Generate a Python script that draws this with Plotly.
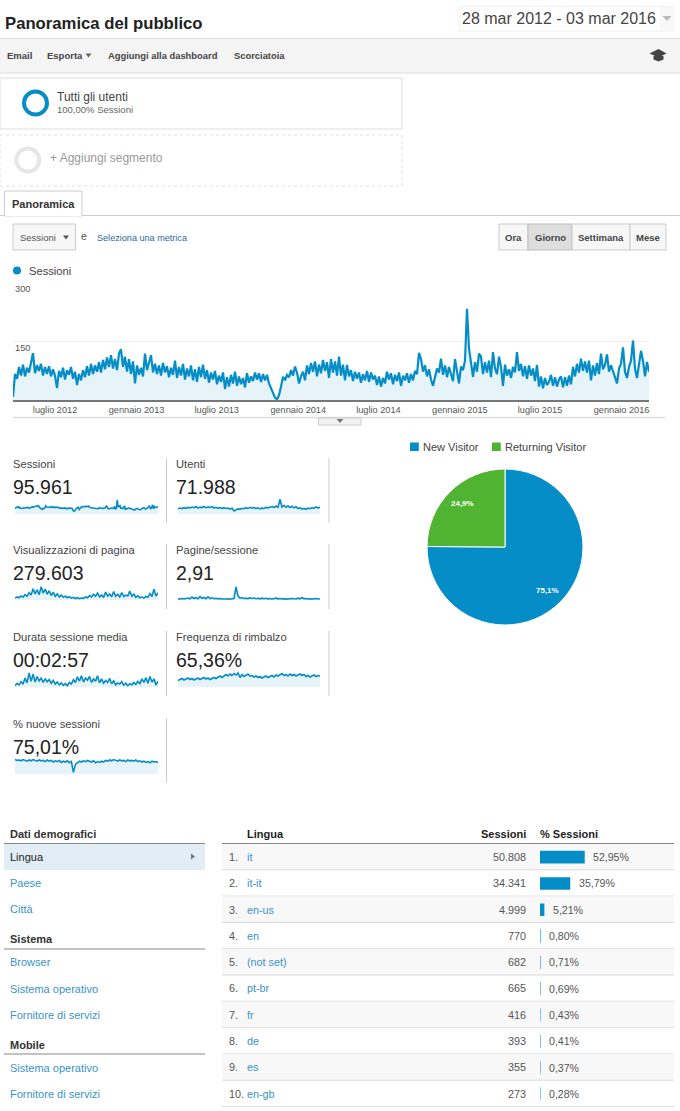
import math
import pandas as pd
import plotly.graph_objects as go

W, H = 680, 1111
BLUE = '#058dc7'
GREEN = '#50b432'
FILL = 'rgba(5,141,199,0.1)'
LINK = '#3a93cb'
FONT = 'Liberation Sans'

# main chart (left to right)
sessions = [
    8, 66, 54, 84, 62, 90, 60, 82, 70, 96, 119, 68, 88, 74, 92, 62, 84, 66, 86, 60,
    78, 62, 30, 74, 58, 82, 52, 76, 64, 84, 54, 72, 38, 66, 50, 76, 58, 86, 62, 92,
    66, 88, 72, 96, 70, 102, 78, 108, 84, 114, 80, 104, 76, 118, 129, 84, 110, 72, 104, 66,
    98, 42, 88, 64, 82, 60, 118, 76, 96, 114, 70, 92, 66, 88, 62, 94, 70, 86, 58, 82,
    64, 100, 56, 84, 62, 92, 52, 80, 60, 88, 50, 78, 46, 84, 58, 90, 54, 76, 44, 70,
    52, 74, 40, 62, 46, 70, 28, 58, 34, 64, 42, 72, 36, 60, 40, 56, 32, 68, 44, 60,
    48, 70, 52, 68, 46, 66, 50, 64, 42, 30, 16, 6, 2, 12, 34, 59, 50, 64, 58, 76,
    62, 85, 70, 42, 60, 72, 50, 88, 66, 94, 72, 98, 60, 90, 68, 102, 74, 96, 56, 104,
    70, 98, 62, 110, 62, 90, 50, 89, 60, 76, 48, 72, 54, 70, 44, 66, 50, 74, 46, 70,
    52, 62, 38, 60, 34, 56, 42, 72, 52, 68, 40, 64, 48, 70, 36, 62, 50, 68, 44, 66,
    50, 74, 66, 120, 104, 72, 88, 60, 78, 52, 36, 62, 80, 70, 105, 64, 88, 58, 84, 66,
    48, 104, 70, 42, 85, 76, 100, 232, 131, 88, 59, 96, 72, 118, 110, 66, 96, 70, 100, 58,
    122, 80, 66, 110, 84, 36, 90, 62, 78, 56, 84, 70, 122, 74, 92, 60, 86, 54, 88, 62,
    80, 48, 89, 34, 60, 30, 56, 38, 46, 64, 36, 58, 34, 52, 60, 32, 58, 36, 62, 40,
    84, 60, 92, 70, 105, 74, 98, 70, 100, 50, 88, 62, 94, 66, 118, 78, 90, 116, 72, 88,
    70, 58, 42, 80, 92, 134, 72, 56, 84, 100, 151, 80, 56, 90, 125, 100, 60, 97, 72,
]
month_ticks = ['2012-07-01', '2013-01-01', '2013-07-01', '2014-01-01',
               '2014-07-01', '2015-01-01', '2015-07-01', '2016-01-01']
month_labels = ['luglio 2012', 'gennaio 2013', 'luglio 2013', 'gennaio 2014',
                'luglio 2014', 'gennaio 2015', 'luglio 2015', 'gennaio 2016']

# sparklines
users = [40, 52, 44, 56, 48, 60, 52, 66, 56, 72, 50, 64, 58, 74, 54, 68, 60, 72, 52, 62,
         48, 58, 44, 56, 46, 52, 38, 50, 10, 30, 40, 34, 48, 42, 56, 46, 62, 50, 58, 44,
         54, 40, 50, 46, 60, 54, 66, 72, 58, 80, 62, 174, 66, 90, 62, 82, 58, 76, 54, 70,
         44, 56, 36, 46, 34, 50, 42, 58, 46, 68, 52, 64]
pageviews = [150, 210, 170, 260, 200, 320, 240, 420, 300, 620, 360, 560, 320, 720, 400, 600,
             340, 520, 280, 440, 240, 360, 210, 300, 190, 250, 170, 220, 150, 190, 130, 170,
             120, 150, 140, 210, 170, 280, 210, 340, 240, 400, 220, 300, 200, 450, 250, 360,
             220, 480, 240, 340, 210, 420, 230, 300, 260, 500, 240, 350, 190, 260, 160, 210,
             150, 230, 190, 380, 230, 600, 250, 420]
pages = [2.6, 2.8, 3.0, 2.7, 2.9, 3.3, 2.8, 3.9, 3.0, 3.5, 2.9, 4.2, 3.1, 3.6, 2.9, 4.0,
         3.0, 3.4, 2.9, 3.1, 2.8, 3.0, 2.7, 2.9, 2.7, 2.8, 2.6, 2.9, 3.0, 10.0, 4.6, 3.2,
         3.4, 3.0, 3.2, 2.9, 3.5, 3.0, 3.3, 2.9, 3.1, 2.8, 3.2, 2.9, 3.1, 2.8, 3.0, 2.7,
         2.9, 3.2, 2.8, 3.0, 2.7, 2.9, 2.6, 2.8, 2.7, 3.0, 2.8, 2.7, 3.2, 2.8, 3.6, 2.9,
         3.0, 2.7, 2.9, 2.6, 2.8, 3.0, 2.7, 2.9]
duration = [110, 170, 130, 210, 160, 300, 180, 430, 220, 400, 200, 340, 230, 300, 190, 280,
            210, 260, 170, 240, 150, 200, 130, 180, 120, 160, 110, 190, 150, 260, 190, 330,
            220, 360, 200, 300, 250, 340, 190, 280, 220, 360, 180, 280, 170, 240, 190, 290,
            160, 230, 130, 180, 150, 210, 120, 170, 110, 160, 130, 190, 140, 220, 160, 280,
            190, 310, 170, 340, 200, 280, 130, 220]
bounce = [58, 60, 62, 59, 61, 63, 60, 62, 59, 61, 63, 60, 62, 64, 61, 63,
          60, 62, 64, 62, 65, 67, 64, 68, 70, 67, 71, 68, 72, 69, 73, 64,
          70, 66, 69, 71, 67, 68, 65, 67, 64, 66, 63, 65, 67, 64, 66, 68,
          65, 69, 67, 70, 72, 68, 70, 67, 71, 68, 70, 67, 69, 71, 68, 70,
          66, 68, 65, 67, 69, 66, 68, 67]
new_sessions = [80, 78, 79, 77, 80, 78, 76, 79, 77, 80, 78, 76, 79, 77, 78, 75,
                79, 76, 78, 74, 77, 75, 78, 73, 76, 74, 77, 72, 75, 48, 68, 72,
                76, 74, 77, 75, 78, 76, 74, 77, 72, 75, 73, 76, 74, 78, 76, 79,
                77, 80, 78, 76, 79, 77, 78, 75, 79, 77, 78, 76, 79, 75, 77, 74,
                76, 73, 75, 72, 76, 74, 75, 73]

spark_titles = ['Sessioni', 'Utenti', 'Visualizzazioni di pagina', 'Pagine/sessione',
                'Durata sessione media', 'Frequenza di rimbalzo', '% nuove sessioni']
spark_totals = ['95.961', '71.988', '279.603', '2,91', '00:02:57', '65,36%', '75,01%']
spark_series = [sessions[1::2], users, pageviews, pages, duration, bounce, new_sessions]
spark_ranges = [(-49, 271), (-32, 192), (55, 855), (2.1, 11.7), (77, 477), (45, 77), (44, 84)]

# pie
visitor_types = ['New Visitor', 'Returning Visitor']
visitor_share = [75.1, 24.9]

# table
languages = ['it', 'it-it', 'en-us', 'en', '(not set)', 'pt-br', 'fr', 'de', 'es', 'en-gb']
lang_sessions = [50808, 34341, 4999, 770, 682, 665, 416, 393, 355, 273]
lang_share = [52.95, 35.79, 5.21, 0.80, 0.71, 0.69, 0.43, 0.41, 0.37, 0.28]


def px(x):
    return x / W


def py(y):
    return 1 - y / H


def txt(x, y, s, size=11, color='#444', anchor='left', bold=False):
    return dict(x=px(x), y=py(y), xref='paper', yref='paper', text=f'<b>{s}</b>' if bold else s,
                showarrow=False, xanchor=anchor, yanchor='middle', align=anchor,
                font=dict(family=FONT, size=size, color=color), borderpad=0, borderwidth=0)


def rect(x0, y0, x1, y1, fill='rgba(0,0,0,0)', line='rgba(0,0,0,0)', width=1, dash='solid'):
    return dict(type='rect', xref='paper', yref='paper', x0=px(x0), y0=py(y0), x1=px(x1), y1=py(y1),
                fillcolor=fill, line=dict(color=line, width=width, dash=dash), layer='below')


def hline(x0, x1, y, color='#ddd', width=1):
    return dict(type='line', xref='paper', yref='paper', x0=px(x0), x1=px(x1), y0=py(y), y1=py(y),
                line=dict(color=color, width=width), layer='below')


def vline(x, y0, y1, color='#ccc', width=1):
    return dict(type='line', xref='paper', yref='paper', x0=px(x), x1=px(x), y0=py(y0), y1=py(y1),
                line=dict(color=color, width=width), layer='below')


def poly(points, color):
    d = 'M ' + ' L '.join(f'{px(a):.5f} {py(b):.5f}' for a, b in points) + ' Z'
    return dict(type='path', xref='paper', yref='paper', path=d, fillcolor=color,
                line=dict(width=0), layer='above')


def tri(x, y, w, h, color):
    return poly([(x - w / 2, y - h / 2), (x + w / 2, y - h / 2), (x, y + h / 2)], color)


def ring(cx, cy, r, color, width):
    return dict(type='circle', xref='paper', yref='paper', x0=px(cx - r), x1=px(cx + r),
                y0=py(cy - r), y1=py(cy + r), line=dict(color=color, width=width), layer='below')


fig = go.Figure()

# main line
dates = pd.date_range('2012-03-28', '2016-03-03', periods=len(sessions))
fig.add_trace(go.Scatter(x=dates, y=sessions, mode='lines', line=dict(color=BLUE, width=2.2),
                         fill='tozeroy', fillcolor=FILL, showlegend=False))

layout_axes = dict(
    xaxis=dict(domain=[px(13), px(649)], range=[dates[0], dates[-1]], tickvals=month_ticks,
               ticktext=month_labels, tickfont=dict(family=FONT, size=9.2, color='#555'),
               showgrid=False, zeroline=False, showline=True, linecolor='#777', linewidth=1.5,
               ticks='', anchor='y', automargin=False),
    yaxis=dict(domain=[py(400), py(282)], range=[0, 300], tickvals=[150, 300], showticklabels=False,
               gridcolor='#efefef', zeroline=False, anchor='x', automargin=False),
)

# sparklines, 2 columns
shapes = []
annots = []
spark_x = [(15, 158), (178, 320)]
spark_base = [514, 600, 687, 774]
for i, series in enumerate(spark_series):
    row, col = i // 2, i % 2
    n = i + 2
    base = spark_base[row]
    xs = list(range(len(series)))
    lo, hi = spark_ranges[i]
    fig.add_trace(go.Scatter(x=xs, y=[lo] * len(series), mode='lines', line=dict(width=0),
                             xaxis=f'x{n}', yaxis=f'y{n}', showlegend=False))
    fig.add_trace(go.Scatter(x=xs, y=series, mode='lines', line=dict(color=BLUE, width=1.6),
                             fill='tonexty', fillcolor=FILL, xaxis=f'x{n}', yaxis=f'y{n}',
                             showlegend=False))
    layout_axes[f'xaxis{n}'] = dict(domain=[px(spark_x[col][0]), px(spark_x[col][1])],
                                    range=[0, len(series) - 1], visible=False, anchor=f'y{n}',
                                    automargin=False)
    layout_axes[f'yaxis{n}'] = dict(domain=[py(base), py(base - 16)], range=[lo, hi],
                                    visible=False, anchor=f'x{n}', automargin=False)
    tx = spark_x[col][0] - 2
    annots.append(txt(tx, base - 50, spark_titles[i], 11.2))
    annots.append(txt(tx, base - 27, spark_totals[i], 19.5, '#222'))
    shapes.append(vline(166.5 if col == 0 else 329, base - 56, base + 9,
                        '#ccc' if col == 0 else '#ddd', 1 if col == 0 else 1.5))

# pie
pie_c, pie_r = (505, 547), 78
fig.add_trace(go.Pie(labels=visitor_types, values=visitor_share, sort=False, direction='clockwise',
                     rotation=0, marker=dict(colors=[BLUE, GREEN], line=dict(color='white', width=1)),
                     textinfo='none', showlegend=False,
                     domain=dict(x=[px(pie_c[0] - pie_r), px(pie_c[0] + pie_r)],
                                 y=[py(pie_c[1] + pie_r), py(pie_c[1] - pie_r)])))
start = 0
for v in visitor_share:
    mid = math.radians((start + v / 2) * 3.6)
    start += v
    annots.append(txt(pie_c[0] + 0.78 * pie_r * math.sin(mid), pie_c[1] - 0.78 * pie_r * math.cos(mid),
                      f'{v:.1f}%'.replace('.', ','), 8, 'white', 'center', True))

# table bars
small = [p < 1 for p in lang_share]
fig.add_trace(go.Bar(x=lang_share, y=languages, orientation='h', xaxis='x9', yaxis='y9',
                     marker=dict(color=BLUE,
                                 line=dict(color=['#7fc4e3' if s else BLUE for s in small],
                                           width=[1 if s else 0 for s in small])),
                     showlegend=False))
layout_axes['xaxis9'] = dict(domain=[px(540), px(624.5)], range=[0, 100], visible=False,
                             anchor='y9', automargin=False)
layout_axes['yaxis9'] = dict(domain=[py(1107), py(844)], range=[9.5, -0.5], type='category',
                             visible=False, anchor='x9', automargin=False)

# header
annots += [
    txt(5, 24, 'Panoramica del pubblico', 16.7, '#222', bold=True),
    txt(462, 18, '28 mar 2012 - 03 mar 2016', 16, '#444'),
    txt(7, 55.5, 'Email', 9.5, '#444', bold=True),
    txt(47, 55.5, 'Esporta', 9.5, '#444', bold=True),
    txt(107.5, 55.5, 'Aggiungi alla dashboard', 9.4, '#444', bold=True),
    txt(234, 55.5, 'Scorciatoia', 9.4, '#444', bold=True),
    txt(57, 97, 'Tutti gli utenti', 12, '#444'),
    txt(57, 110, '100,00% Sessioni', 9.5, '#666'),
    txt(50, 158, '+ Aggiungi segmento', 12, '#999'),
    txt(12, 204, 'Panoramica', 11, '#333', bold=True),
    txt(20, 237.5, 'Sessioni', 9.5, '#555'),
    txt(81, 236, 'e', 10.5, '#555'),
    txt(96.5, 237.5, 'Seleziona una metrica', 9.1, '#2a6aa0'),
    txt(513.5, 237.5, 'Ora', 9.5, '#444', 'center', True),
    txt(550, 237.5, 'Giorno', 9.5, '#444', 'center', True),
    txt(601, 237.5, 'Settimana', 9.5, '#444', 'center', True),
    txt(648, 237.5, 'Mese', 9.5, '#444', 'center', True),
    txt(29, 271, 'Sessioni', 11.2, '#444'),
    txt(15, 289, '300', 9.3, '#555'),
    txt(15, 348, '150', 9.3, '#555'),
    txt(423, 447, visitor_types[0], 11, '#444'),
    txt(505, 447, visitor_types[1], 11, '#444'),
]
shapes += [
    rect(459.5, 6.5, 674, 31, '#fff', '#f0f0f0', 1),
    rect(660, 7, 673.5, 30.5, '#f8f8f8'),
    tri(667, 18.5, 9, 5, '#bbb'),
    rect(-1, 38.5, 681, 73, '#f5f5f5', '#ddd', 1),
    tri(88.5, 55.5, 6, 4, '#666'),
    poly([(649.5, 53.5), (658.5, 49), (666.5, 53.5), (658.5, 57.5)], '#444'),
    poly([(653.5, 56), (663.5, 56), (663.5, 59.5), (658.5, 61.5), (653.5, 59.5)], '#444'),
    rect(0, 78, 402, 129, '#fff', '#ddd', 1),
    ring(35.5, 103, 11.5, BLUE, 4),
    rect(0, 135, 402, 186, '#fff', '#ddd', 1, 'dot'),
    ring(27.8, 160, 11.5, '#e6e6e6', 4),
    hline(0, 680, 215.5, '#ccc', 1),
    rect(4.5, 191, 82, 216, '#fff', '#ccc', 1),
    hline(5, 81.5, 215.5, '#fff', 1.5),
    rect(13, 224, 75.5, 250, '#f7f7f7', '#ccc', 1),
    tri(66, 237.5, 6, 4, '#555'),
    rect(499, 224, 528, 250, '#f7f7f7', '#ccc', 1),
    rect(528, 224, 572, 250, '#dedede', '#bbb', 1),
    rect(572, 224, 630, 250, '#f7f7f7', '#ccc', 1),
    rect(630, 224, 666, 250, '#f7f7f7', '#ccc', 1),
    dict(type='circle', xref='paper', yref='paper', x0=px(13), x1=px(21), y0=py(266.5), y1=py(274.5),
         fillcolor=BLUE, line=dict(width=0)),
    hline(13, 665, 417.5, '#ddd', 1.5),
    rect(318.5, 418, 361, 425, '#f2f2f2', '#ccc', 1),
    tri(340, 421, 7, 4, '#777'),
    rect(410, 442.5, 418.8, 451, BLUE),
    rect(492, 442.5, 500.8, 451, GREEN),
]

# left menu
menu_heads = [('Dati demografici', 834, 843.5), ('Sistema', 939, 949), ('Mobile', 1045, 1054)]
menu_links = [('Paese', 883), ('Città', 909), ('Browser', 962), ('Sistema operativo', 989),
              ('Fornitore di servizi', 1015), ('Sistema operativo', 1068), ('Fornitore di servizi', 1094)]
for name, y, ly in menu_heads:
    annots.append(txt(10, y, name, 11, '#333', bold=True))
    shapes.append(hline(4, 205, ly, '#888', 1))
for name, y in menu_links:
    annots.append(txt(10, y, name, 11, LINK))
shapes.append(rect(4, 844, 205, 870, '#e1eef6'))
shapes.append(poly([(191, 853.5), (191, 859.5), (195, 856.5)], '#777'))
annots.append(txt(10, 857, 'Lingua', 11, '#222'))

# table
row_h = 263 / 10
annots += [txt(247, 834, 'Lingua', 11, '#222', bold=True),
           txt(525.7, 834, 'Sessioni', 11, '#222', 'right', True),
           txt(540, 834, '% Sessioni', 11, '#222', bold=True)]
shapes.append(hline(222, 674, 843.5, '#888', 1))
for i, lang in enumerate(languages):
    top = 844 + i * row_h
    if i % 2 == 0:
        shapes.append(rect(222, top, 674, top + row_h, '#f8f8f8'))
    shapes.append(hline(222, 674, top + row_h - 0.5, '#ddd', 1))
    y = top + row_h / 2 - 0.2
    annots.append(txt(229, y, f'{i + 1}.', 10.8, '#555'))
    annots.append(txt(247, y, lang, 10.8, LINK))
    annots.append(txt(525.7, y, f'{lang_sessions[i]:,}'.replace(',', '.'), 10.8, '#555', 'right'))
    annots.append(dict(x=lang_share[i], y=lang, xref='x9', yref='y9', xshift=7.5, showarrow=False,
                       xanchor='left', yanchor='middle',
                       text=f'{lang_share[i]:.2f}%'.replace('.', ','), borderpad=0,
                       font=dict(family=FONT, size=10.6, color='#555')))

fig.update_layout(width=W, height=H, autosize=False, margin=dict(l=0, r=0, t=0, b=0, pad=0),
                  paper_bgcolor='white', plot_bgcolor='rgba(0,0,0,0)', bargap=0.52,
                  hovermode=False, shapes=shapes, annotations=annots, **layout_axes)

fig.write_html('out.html', config=dict(displayModeBar=False),
               post_script="document.body.style.margin='0';document.body.style.overflow='hidden';")
